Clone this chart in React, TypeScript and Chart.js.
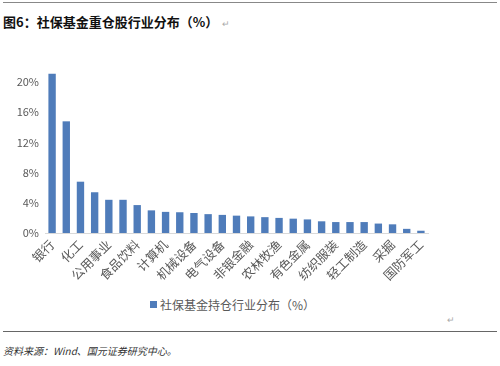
import React, { useEffect, useRef } from "react";
import { Chart, registerables } from "chart.js";

Chart.register(...registerables);

const categories = [
  "银行", "医药生物", "化工", "家用电器", "公用事业", "交通运输", "食品饮料",
  "汽车", "计算机", "电子", "机械设备", "房地产", "电气设备", "建筑装饰",
  "非银金融", "传媒", "农林牧渔", "商业贸易", "有色金属", "建筑材料",
  "纺织服装", "钢铁", "轻工制造", "通信", "采掘", "休闲服务", "国防军工",
];
const values = [
  21.1, 14.8, 6.8, 5.4, 4.4, 4.4, 3.7, 3.0, 2.8, 2.75, 2.65, 2.5, 2.4, 2.3,
  2.2, 2.1, 2.0, 1.9, 1.8, 1.55, 1.45, 1.45, 1.45, 1.25, 1.15, 0.55, 0.3,
];
const yTicks = [0, 4, 8, 12, 16, 20];
const seriesName = "社保基金持仓行业分布（%）";
const titleText = "图6：社保基金重仓股行业分布（%）";
const sourceText = "资料来源：Wind、国元证券研究中心。";

const BAR = "#4f7cba";
const CJK = '"Noto Sans CJK SC", "Noto Sans", sans-serif';

export default function App() {
  const ref = useRef<HTMLCanvasElement>(null);
  useEffect(() => {
    if (!ref.current) return;
    const chart = new Chart(ref.current, {
      type: "bar",
      data: {
        labels: categories,
        datasets: [
          {
            label: seriesName,
            data: values,
            backgroundColor: BAR,
            barPercentage: 0.52,
            categoryPercentage: 1,
          },
        ],
      },
      options: {
        responsive: false,
        animation: false,
        layout: { padding: { top: 17, right: 12, left: 0, bottom: 0 } },
        plugins: { legend: { display: false }, tooltip: { enabled: false } },
        scales: {
          x: {
            grid: { display: false, drawTicks: false },
            border: { display: true, color: "#d9d9d9" },
            ticks: {
              autoSkip: false,
              maxRotation: 45,
              minRotation: 45,
              padding: 4,
              color: "#595959",
              font: { family: CJK, size: 12.5 },
              callback: (_v: any, i: number) => (i % 2 === 0 ? categories[i] : ""),
            },
            afterFit: (s: any) => {
              s.height = 60;
            },
          },
          y: {
            min: 0,
            max: 22,
            grid: { display: false, drawTicks: false },
            border: { display: false },
            afterBuildTicks: (s: any) => {
              s.ticks = yTicks.map((v) => ({ value: v }));
            },
            ticks: {
              padding: 6,
              color: "#595959",
              font: { family: CJK, size: 11 },
              callback: (v: any) => `${v}%`,
            },
            afterFit: (s: any) => {
              s.width = 45;
            },
          },
        },
      },
    });
    return () => chart.destroy();
  }, []);

  return (
    <div
      style={{
        position: "fixed",
        left: 0,
        top: 0,
        width: 500,
        height: 366,
        background: "#fff",
        fontFamily: CJK,
        overflow: "hidden",
      }}
    >
      <div style={{ position: "absolute", left: 3, right: 3, top: 2, height: 1, background: "#888" }} />
      <div
        style={{
          position: "absolute",
          left: 3,
          top: 12,
          fontSize: 13,
          fontWeight: "bold",
          color: "#111",
          whiteSpace: "nowrap",
        }}
      >
        {titleText}
        <span style={{ fontWeight: "normal", color: "#aaa", fontSize: 9, marginLeft: 4 }}>↵</span>
      </div>
      <canvas
        ref={ref}
        width={440}
        height={243}
        style={{ position: "absolute", left: 0, top: 50, width: 440, height: 243 }}
      />
      <div
        style={{
          position: "absolute",
          left: 150,
          top: 296,
          fontSize: 12,
          color: "#595959",
          whiteSpace: "nowrap",
          display: "flex",
          alignItems: "center",
        }}
      >
        <span style={{ display: "inline-block", width: 7, height: 7, background: BAR, marginRight: 3 }} />
        {seriesName}
      </div>
      <div style={{ position: "absolute", left: 447, top: 313, fontSize: 9, color: "#aaa" }}>↵</div>
      <div style={{ position: "absolute", left: 3, right: 3, top: 331, height: 1, background: "#666" }} />
      <div
        style={{
          position: "absolute",
          left: 3,
          top: 343,
          fontSize: 10,
          fontStyle: "italic",
          color: "#333",
          whiteSpace: "nowrap",
        }}
      >
        {sourceText}
      </div>
    </div>
  );
}
